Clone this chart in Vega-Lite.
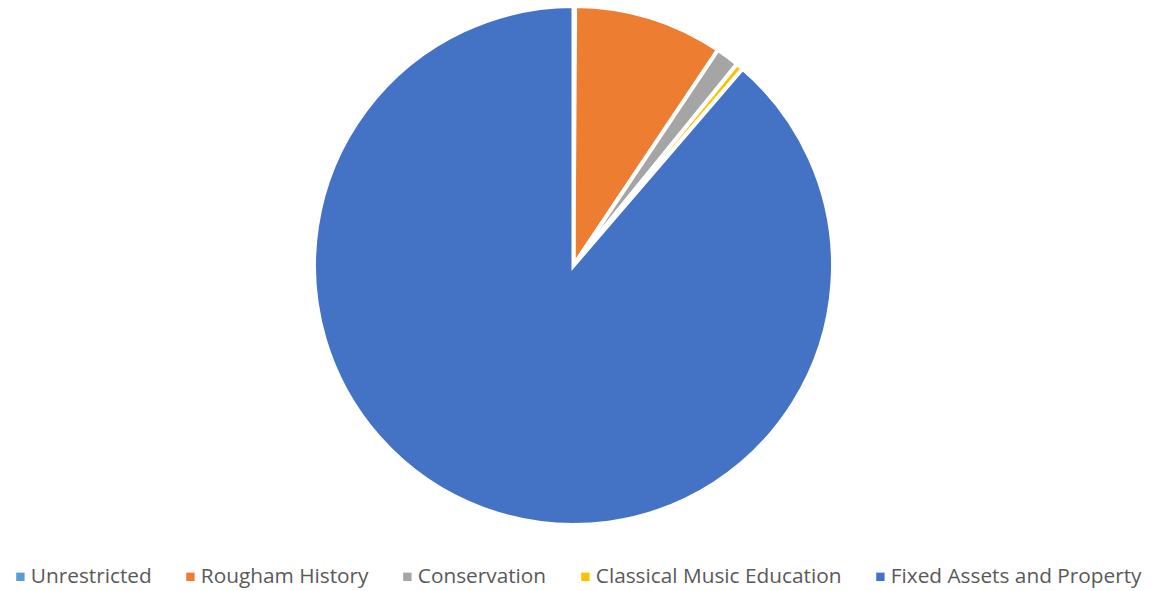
{
  "$schema": "https://vega.github.io/schema/vega-lite/v6.json",
  "width": 1147,
  "height": 531,
  "autosize": "none",
  "padding": {"left": 0, "top": 0, "right": 11, "bottom": 60},
  "background": "white",
  "config": {"view": {"stroke": null}},
  "data": {
    "values": [
      {"fund": "Unrestricted", "value": 0.1, "ord": 1},
      {"fund": "Rougham History", "value": 9.3, "ord": 2},
      {"fund": "Conservation", "value": 1.45, "ord": 3},
      {"fund": "Classical Music Education", "value": 0.45, "ord": 4},
      {"fund": "Fixed Assets and Property", "value": 88.7, "ord": 5}
    ]
  },
  "mark": {"type": "arc", "outerRadius": 259.5, "stroke": "white", "strokeWidth": 4},
  "encoding": {
    "theta": {"field": "value", "type": "quantitative", "stack": true},
    "order": {"field": "ord", "type": "quantitative"},
    "color": {
      "field": "fund",
      "type": "nominal",
      "scale": {
        "domain": ["Unrestricted", "Rougham History", "Conservation", "Classical Music Education", "Fixed Assets and Property"],
        "range": ["#5B9BD5", "#ED7D31", "#A5A5A5", "#FFC000", "#4472C4"]
      },
      "legend": {
        "title": null,
        "orient": "none",
        "direction": "horizontal",
        "legendX": 10,
        "legendY": 566,
        "padding": 0,
        "symbolType": "square",
        "symbolSize": 70,
        "symbolStrokeWidth": 0,
        "labelFont": "Open Sans",
        "labelFontSize": 20.8,
        "labelColor": "#595959",
        "labelOffset": 0,
        "columnPadding": 28,
        "labelLimit": 400
      }
    }
  }
}
